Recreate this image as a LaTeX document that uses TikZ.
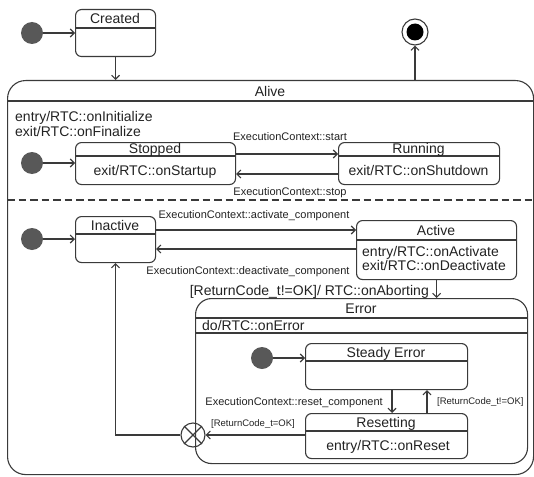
\documentclass[tikz,border=0pt]{standalone}
\usepackage{fontspec}
\setmainfont{Liberation Sans}
\usetikzlibrary{arrows.meta}
\definecolor{lc}{HTML}{3A3A3A}
\definecolor{tc}{HTML}{222222}
\definecolor{dotc}{HTML}{585858}
\tikzset{
  ln/.style={draw=lc, line width=1.1pt},
  stbox/.style={ln, rounded corners=6pt, inner sep=0pt, anchor=north west},
  arr/.style={ln, -{Straight Barb[length=4pt,width=8pt]}},
  big/.style={font=\fontsize{14}{16}\selectfont, text=tc, inner sep=0pt, text height=10pt, text depth=0pt},
  small/.style={font=\fontsize{11}{13}\selectfont, text=tc, inner sep=0pt, text height=8pt, text depth=0pt},
  tiny/.style={font=\fontsize{9.5}{11}\selectfont, text=tc, inner sep=0pt, text height=7pt, text depth=0pt},
  init/.style={circle, fill=dotc, minimum size=22pt, inner sep=0pt},
}
\begin{document}
\begin{tikzpicture}[x=1pt,y=-1pt]
\useasboundingbox (0,0) rectangle (534,476);

% Created
\node[init] (i1) at (32,33) {};
\node[stbox, minimum width=80pt, minimum height=47pt] (created) at (75,9) {};
\draw[ln] (created.west |- 0,28) -- (created.east |- 0,28);
\node[big] (createdT) at (115,18.5) {Created};
\draw[arr] (i1) -- (created.west |- i1);

% Final
\node[circle, ln, minimum size=26pt, inner sep=0pt] (fin) at (415,32) {};
\node[circle, fill=black, minimum size=17pt, inner sep=0pt] (finin) at (fin) {};

% Alive
\node[stbox, rounded corners=18pt, minimum width=526pt, minimum height=394pt] (alive) at (7,80) {};
\draw[ln] (alive.west |- 0,101) -- (alive.east |- 0,101);
\node[big] (aliveT) at (270,91) {Alive};
\node[big, anchor=west] (aliveE) at (15,116) {entry/RTC::onInitialize};
\node[big, anchor=west] (aliveX) at (15,131) {exit/RTC::onFinalize};
\draw[arr] (created.south) -- (created.south |- alive.north);
\draw[arr] (alive.north -| fin) -- (fin.south);

% Stopped / Running
\node[init] (i2) at (32,163) {};
\node[stbox, minimum width=160pt, minimum height=42pt] (stopped) at (75,142) {};
\draw[ln] (stopped.west |- 0,156) -- (stopped.east |- 0,156);
\node[big] (stoppedT) at (155,148.5) {Stopped};
\node[big] (stoppedB) at (155,170) {exit/RTC::onStartup};
\draw[arr] (i2) -- (stopped.west |- i2);

\node[stbox, minimum width=161pt, minimum height=42pt] (running) at (338,142) {};
\draw[ln] (running.west |- 0,156) -- (running.east |- 0,156);
\node[big] (runningT) at (418.5,148.5) {Running};
\node[big] (runningB) at (418.5,170) {exit/RTC::onShutdown};

\draw[arr] (stopped.east |- 0,154) -- (running.west |- 0,154);
\node[small] (startL) at (290,136) {ExecutionContext::start};
\draw[arr] (running.west |- 0,174) -- (stopped.east |- 0,174);
\node[small] (stopL) at (290,191) {ExecutionContext::stop};

% region separator
\draw[ln, dash pattern=on 7.5pt off 4pt] (alive.west |- 0,200) -- (alive.east |- 0,200);

% Inactive / Active
\node[init] (i3) at (32,239) {};
\node[stbox, minimum width=80pt, minimum height=46pt] (inactive) at (75,216) {};
\draw[ln] (inactive.west |- 0,234) -- (inactive.east |- 0,234);
\node[big] (inactiveT) at (115,225) {Inactive};
\draw[arr] (i3) -- (inactive.west |- i3);

\node[stbox, minimum width=160pt, minimum height=59pt] (active) at (356,220) {};
\draw[ln] (active.west |- 0,240) -- (active.east |- 0,240);
\node[big] (activeT) at (436,230) {Active};
\node[big, anchor=west] (activeE) at (362,251) {entry/RTC::onActivate};
\node[big, anchor=west] (activeX) at (362,265) {exit/RTC::onDeactivate};

\draw[arr] (inactive.east |- 0,230) -- (active.west |- 0,230);
\node[small] (actL) at (254,214) {ExecutionContext::activate\_component};
\draw[arr] (active.west |- 0,249) -- (inactive.east |- 0,249);
\node[small] (deactL) at (248,270) {ExecutionContext::deactivate\_component};

% Error
\node[stbox, rounded corners=16pt, minimum width=332pt, minimum height=165pt] (error) at (195,298) {};
\draw[ln] (error.west |- 0,318) -- (error.east |- 0,318);
\draw[ln] (error.west |- 0,333) -- (error.east |- 0,333);
\node[big] (errorT) at (361,308) {Error};
\node[big, anchor=west] (errorD) at (202,325) {do/RTC::onError};
\draw[arr] (active.south) -- (active.south |- error.north);
\node[big, anchor=east] (abortL) at (429,290) {[ReturnCode\_t!=OK]/ RTC::onAborting};

% Steady Error / Resetting
\node[init] (i4) at (262,358) {};
\node[stbox, minimum width=162pt, minimum height=46pt] (steady) at (305,343) {};
\draw[ln] (steady.west |- 0,361) -- (steady.east |- 0,361);
\node[big] (steadyT) at (386,352) {Steady Error};
\draw[arr] (i4) -- (steady.west |- i4);

\node[stbox, minimum width=162pt, minimum height=45pt] (resetting) at (305,413) {};
\draw[ln] (resetting.west |- 0,431) -- (resetting.east |- 0,431);
\node[big] (resettingT) at (386,422) {Resetting};
\node[big] (resettingB) at (388,445) {entry/RTC::onReset};

\draw[arr] (steady.south -| 392,0) -- (resetting.north -| 392,0);
\node[small, anchor=east] (resetL) at (383,401) {ExecutionContext::reset\_component};
\draw[arr] (resetting.north -| 427,0) -- (steady.south -| 427,0);
\node[tiny, anchor=west] (retL) at (437,401) {[ReturnCode\_t!=OK]};

% junction
\node[circle, ln, minimum size=24pt, inner sep=0pt] (xj) at (193,435) {};
\draw[ln] (xj.north west) -- (xj.south east) (xj.north east) -- (xj.south west);
\draw[arr] (resetting.west |- xj) -- (xj.east);
\node[tiny] (okL) at (253,423) {[ReturnCode\_t=OK]};
\draw[arr] (xj.west) -- (xj.west -| inactive.south) -- (inactive.south);
\end{tikzpicture}
\end{document}
